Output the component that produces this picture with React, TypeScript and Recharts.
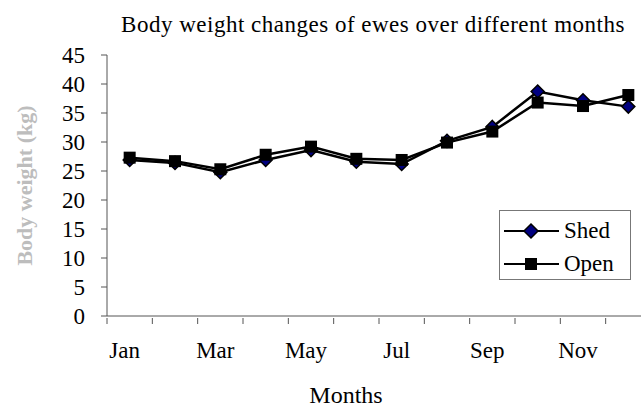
import React from 'react';
import { LineChart, Line, XAxis, YAxis, Legend } from 'recharts';

const months = ['Jan', 'Feb', 'Mar', 'Apr', 'May', 'Jun', 'Jul', 'Aug', 'Sep', 'Oct', 'Nov', 'Dec'];
const shedValues = [26.9, 26.4, 24.8, 26.9, 28.6, 26.6, 26.2, 30.2, 32.6, 38.7, 37.2, 36.1];
const openValues = [27.3, 26.7, 25.3, 27.8, 29.2, 27.1, 26.9, 29.9, 31.8, 36.8, 36.2, 38.1];
const yTicks = [0, 5, 10, 15, 20, 25, 30, 35, 40, 45];
const seriesOrder = ['shed', 'open'];
const seriesNames: Record<string, string> = { shed: 'Shed', open: 'Open' };
const title = 'Body weight changes of ewes over different months';
const xTitle = 'Months';
const yTitle = 'Body weight (kg)';

const data = months.map((m, i) => ({ idx: i, month: m, shed: shedValues[i], open: openValues[i] }));

// boundaries (for tick marks) and even-index centres (for labels)
const xTicks: number[] = [];
for (let i = 0; i <= months.length; i++) {
  xTicks.push(i - 0.5);
  if (i < months.length && i % 2 === 0) xTicks.push(i);
}

const FONT = "'Liberation Serif', 'Times New Roman', serif";
const AXIS = '#555';

const XTick = (props: any) => {
  const { x, y, payload } = props;
  const v = payload.value as number;
  if (!Number.isInteger(v)) {
    return <line x1={x} x2={x} y1={y + 2} y2={y + 8} stroke={AXIS} strokeWidth={1} />;
  }
  return (
    <text x={x - 5} y={y + 42} textAnchor="middle" fontFamily={FONT} fontSize={23} fill="#000">
      {months[v]}
    </text>
  );
};

const Diamond = (props: any) => {
  const { cx, cy, index } = props;
  if (cx == null || cy == null) return <g key={`d${index}`} />;
  const r = 6.5;
  return (
    <polygon
      key={`d${index}`}
      points={`${cx},${cy - r} ${cx + r},${cy} ${cx},${cy + r} ${cx - r},${cy}`}
      fill="#000080"
      stroke="#000"
      strokeWidth={1.5}
    />
  );
};

const Square = (props: any) => {
  const { cx, cy, index } = props;
  if (cx == null || cy == null) return <g key={`s${index}`} />;
  const h = 6;
  return <rect key={`s${index}`} x={cx - h} y={cy - h} width={2 * h} height={2 * h} fill="#000" />;
};

const LegendContent = (props: any) => {
  const payload = [...(props.payload || [])].sort(
    (a: any, b: any) => seriesOrder.indexOf(a.dataKey) - seriesOrder.indexOf(b.dataKey)
  );
  return (
    <div
      style={{
        border: '1px solid #777',
        background: '#fff',
        width: 130,
        height: 65,
        boxSizing: 'content-box',
        fontFamily: FONT,
        fontSize: 23,
        paddingTop: 3,
      }}
    >
      {payload.map((p: any) => (
        <div key={p.dataKey} style={{ display: 'flex', alignItems: 'center', height: 33 }}>
          <svg width={62} height={20} style={{ marginLeft: 2 }}>
            <line x1={2} x2={57} y1={10} y2={10} stroke="#000" strokeWidth={2} />
            {p.dataKey === 'shed' ? (
              <polygon points="29,3 36,10 29,17 22,10" fill="#000080" stroke="#000" strokeWidth={1.5} />
            ) : (
              <rect x={23} y={4} width={12} height={12} fill="#000" />
            )}
          </svg>
          <span style={{ lineHeight: 1 }}>{p.value}</span>
        </div>
      ))}
    </div>
  );
};

export default function App() {
  return (
    <div style={{ position: 'absolute', left: 0, top: 0, width: 641, height: 407, overflow: 'hidden', background: '#fff' }}>
      <div
        style={{
          position: 'absolute',
          left: 73,
          top: 12,
          width: 600,
          textAlign: 'center',
          fontFamily: FONT,
          fontSize: 23,
          letterSpacing: 0.5,
          whiteSpace: 'nowrap',
          color: '#000',
          zIndex: 2,
        }}
      >
        {title}
      </div>
      <LineChart width={660} height={407} data={data} margin={{ top: 55, right: 9, bottom: 0, left: 0 }}>
        <XAxis
          dataKey="idx"
          type="number"
          domain={[-0.5, 11.5]}
          ticks={xTicks}
          interval={0}
          tick={<XTick />}
          tickLine={false}
          tickSize={0}
          tickMargin={0}
          height={91}
          stroke={AXIS}
          label={{
            content: (p: any) => {
              const vb = p.viewBox || {};
              return (
                <text x={vb.x + 239} y={vb.y + 87} textAnchor="middle" fontFamily={FONT} fontSize={24} fill="#000">
                  {xTitle}
                </text>
              );
            },
          }}
        />
        <YAxis
          domain={[0, 45]}
          ticks={yTicks}
          interval={0}
          width={107}
          tickSize={6}
          tickMargin={16}
          stroke={AXIS}
          tick={{ fontFamily: FONT, fontSize: 23, fill: '#000' }}
          label={{
            content: (p: any) => {
              const vb = p.viewBox || {};
              const cx = vb.x + 24;
              const cy = vb.y + vb.height / 2;
              return (
                <text
                  x={cx}
                  y={cy}
                  transform={`rotate(-90 ${cx} ${cy})`}
                  textAnchor="middle"
                  dominantBaseline="central"
                  fontFamily={FONT}
                  fontSize={22}
                  fontWeight="bold"
                  fill="#bdbdbd"
                >
                  {yTitle}
                </text>
              );
            },
          }}
        />
        <Legend
          layout="vertical"
          align="center"
          verticalAlign="middle"
          content={<LegendContent />}
          wrapperStyle={{ left: 499, top: 210, width: 132, height: 70 }}
        />
        <Line
          type="linear"
          dataKey="shed"
          name={seriesNames.shed}
          stroke="#000"
          strokeWidth={2.5}
          dot={Diamond}
          activeDot={false}
          isAnimationActive={false}
        />
        <Line
          type="linear"
          dataKey="open"
          name={seriesNames.open}
          stroke="#000"
          strokeWidth={2.5}
          dot={Square}
          activeDot={false}
          isAnimationActive={false}
        />
      </LineChart>
    </div>
  );
}
